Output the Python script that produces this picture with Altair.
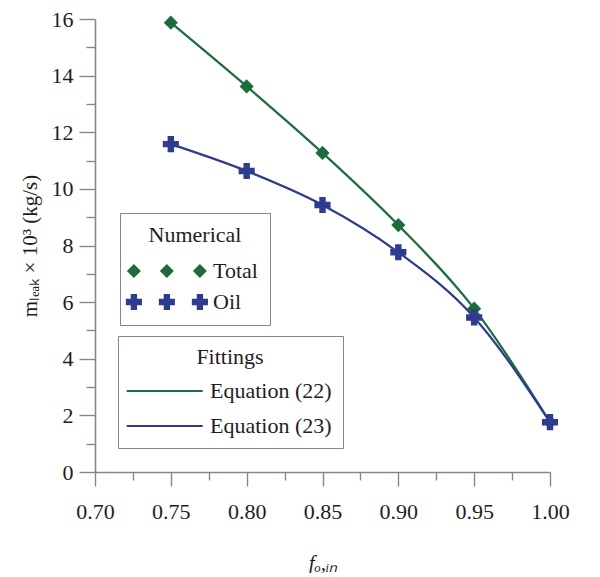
import altair as alt
import pandas as pd

# ---- data ----
f_in = [0.75, 0.80, 0.85, 0.90, 0.95, 1.00]
total = [15.87, 13.62, 11.27, 8.72, 5.77, 1.76]
oil = [11.58, 10.63, 9.43, 7.76, 5.46, 1.76]

series_names = ["Total", "Oil"]
fit_names = ["Equation (22)", "Equation (23)"]

x_major = [0.70, 0.75, 0.80, 0.85, 0.90, 0.95, 1.00]
x_minor = [0.725, 0.775, 0.825, 0.875, 0.925, 0.975]
y_major = [0, 2, 4, 6, 8, 10, 12, 14, 16]
y_minor = [1, 3, 5, 7, 9, 11, 13, 15]

GREEN = "#1b6d3d"
BLUE = "#2d3c8c"
AXIS = "#7f8995"
FONT = "Liberation Serif"
TXT = "#1e1e1e"

pts = pd.DataFrame({
    "f": f_in + f_in,
    "m": total + oil,
    "series": ["Total"] * len(f_in) + ["Oil"] * len(f_in),
})
fits = pd.DataFrame({
    "f": f_in + f_in,
    "m": total + oil,
    "fit": [fit_names[0]] * len(f_in) + [fit_names[1]] * len(f_in),
})

# legend symbols: three diamonds / three crosses in a row
def diamond(cx):
    return f"M{cx-1:.2f},0L{cx:.2f},-1L{cx+1:.2f},0L{cx:.2f},1Z"

def cross(cx, a=1.15, t=0.45):
    return (f"M{cx-a:.2f},{-t}L{cx-t:.2f},{-t}L{cx-t:.2f},{-a}L{cx+t:.2f},{-a}"
            f"L{cx+t:.2f},{-t}L{cx+a:.2f},{-t}L{cx+a:.2f},{t}L{cx+t:.2f},{t}"
            f"L{cx+t:.2f},{a}L{cx-t:.2f},{a}L{cx-t:.2f},{t}L{cx-a:.2f},{t}Z")

offs = [-1.3, 3.41, 8.13]
tri_diamond = "".join(diamond(o) for o in offs)
tri_cross = "".join(cross(o) for o in offs)

x_scale = alt.Scale(domain=[0.70, 1.00], nice=False, zero=False)
y_scale = alt.Scale(domain=[0, 16], nice=False)

common = dict(labelFont=FONT, labelFontSize=22, labelColor=TXT, labelFlush=False,
              titleFont=FONT, titleFontSize=21, titleFontWeight="normal",
              titleColor=TXT, grid=False)

x_axis = alt.Axis(orient="bottom", values=x_major, format=".2f", tickSize=14,
                  labelPadding=15, title="fₒ,ᵢₙ", titleFontStyle="italic",
                  titlePadding=30, **common)
y_axis = alt.Axis(orient="left", values=y_major, tickSize=16, labelPadding=6,
                  title="mₗₑₐₖ × 10³ (kg/s)", titlePadding=11, **common)

base = alt.Chart(pts)

lines = alt.Chart(fits).mark_line(interpolate="monotone", strokeWidth=2.2).encode(
    x=alt.X("f:Q", scale=x_scale, axis=x_axis),
    y=alt.Y("m:Q", scale=y_scale, axis=y_axis),
    stroke=alt.Stroke("fit:N", scale=alt.Scale(domain=fit_names, range=[GREEN, BLUE]),
                      legend=alt.Legend(title="Fittings", orient="none",
                                        legendX=23, legendY=317,
                                        symbolType="M-1.9,0L8.96,0", symbolSize=196,
                                        symbolStrokeWidth=2.2, labelOffset=59,
                                        rowPadding=13, padding=11,
                                        strokeColor=AXIS, titleAnchor="middle",
                                        titlePadding=11)),
)

legend_pts = base.mark_point(filled=True, size=0, opacity=1).encode(
    x=alt.X("f:Q", scale=x_scale,
            axis=alt.Axis(orient="bottom", values=x_minor, tickSize=8, labels=False,
                          domain=False, title="", grid=False)),
    y=alt.Y("m:Q", scale=y_scale,
            axis=alt.Axis(orient="left", values=y_minor, tickSize=9, labels=False,
                          domain=False, title="", grid=False)),
    fill=alt.Fill("series:N", scale=alt.Scale(domain=series_names, range=[GREEN, BLUE]),
                  legend=alt.Legend(title="Numerical", orient="none",
                                    legendX=25, legendY=194,
                                    symbolSize=196, symbolOpacity=1,
                                    symbolStrokeWidth=0, labelOffset=59,
                                    rowPadding=9, padding=12,
                                    strokeColor=AXIS, titleAnchor="middle",
                                    titlePadding=13)),
    shape=alt.Shape("series:N", scale=alt.Scale(domain=series_names,
                                                range=[tri_diamond, tri_cross]),
                    legend=alt.Legend(title="Numerical")),
)

total_pts = base.transform_filter(alt.datum.series == "Total").mark_point(
    shape="diamond", filled=True, size=200, color=GREEN, opacity=1
).encode(x=alt.X("f:Q", scale=x_scale, axis=None),
         y=alt.Y("m:Q", scale=y_scale, axis=None))

oil_pts = base.transform_filter(alt.datum.series == "Oil").mark_point(
    shape="cross", filled=True, size=260, color=BLUE, opacity=1
).encode(x=alt.X("f:Q", scale=x_scale, axis=None),
         y=alt.Y("m:Q", scale=y_scale, axis=None))

chart = alt.layer(lines, legend_pts, total_pts, oil_pts).resolve_axis(
    x="independent", y="independent"
).properties(
    width=455, height=453, padding={"left": 11, "top": 0, "right": 5, "bottom": 0},
    background="white",
).configure_view(stroke=None).configure_axis(
    domainColor=AXIS, tickColor=AXIS, domainWidth=1.6, tickWidth=1.4,
    labelFont=FONT, labelFontSize=22, labelColor=TXT,
    titleFont=FONT, titleFontSize=21, titleFontWeight="normal", titleColor=TXT,
).configure_legend(
    labelFont=FONT, labelFontSize=22, labelColor=TXT,
    titleFont=FONT, titleFontSize=22, titleFontWeight="normal", titleColor=TXT,
)

chart.save("out.html", embed_options={"renderer": "svg", "actions": False})
